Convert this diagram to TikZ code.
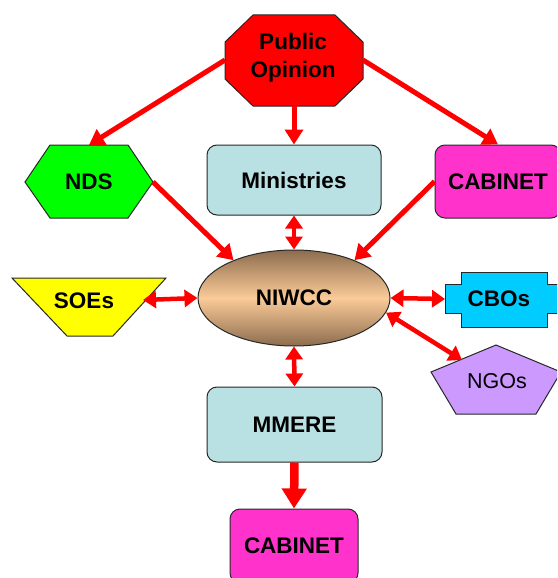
\documentclass[tikz,border=0pt]{standalone}
\usepackage{fontspec}
\setmainfont{Liberation Sans}
\usetikzlibrary{arrows.meta,shapes.geometric}
\definecolor{pubred}{RGB}{255,0,0}
\definecolor{minblue}{RGB}{185,224,227}
\definecolor{ndsgreen}{RGB}{0,255,0}
\definecolor{cabmag}{RGB}{255,51,204}
\definecolor{soeyel}{RGB}{255,255,0}
\definecolor{cbocyan}{RGB}{0,204,255}
\definecolor{ngopurple}{RGB}{204,153,255}
\definecolor{pkMid}{RGB}{251,203,152}
\definecolor{pkEnd}{RGB}{140,108,78}
\definecolor{edge}{RGB}{40,40,40}
\begin{document}
\begin{tikzpicture}[x=1pt,y=-1pt,
  lbl/.style={font=\bfseries\fontsize{22.5}{28}\selectfont, align=center, text=black, inner sep=0pt},
  shp/.style={draw=edge, line width=1pt, line join=miter},
  rbox/.style={draw=edge, line width=1pt, rounded corners=10pt, inner sep=0pt, font=\bfseries\fontsize{22.5}{28}\selectfont},
  arr/.style={draw=red, line width=5pt, -{Triangle[length=15pt,width=18pt]}},
  dbl/.style={draw=red, line width=4.5pt, {Triangle[length=13pt,width=17pt]}-{Triangle[length=13pt,width=17pt]}},
  arrbig/.style={draw=red, line width=8.5pt, -{Triangle[length=20pt,width=24pt]}}]
\clip (0,0) rectangle (557,578);
\fill[white] (0,0) rectangle (557,578);

% shapes drawn as paths
\draw[shp, fill=pubred] (253,15) -- (335,15) -- (363,42) -- (363,79) -- (335,106) -- (253,106) -- (225,79) -- (225,42) -- cycle;
\draw[shp, fill=ndsgreen] (50,145) -- (128,145) -- (153,182) -- (128,218) -- (50,218) -- (25,182) -- cycle;
\draw[shp, fill=soeyel] (12,278) -- (166,278) -- (113,336) -- (67,336) -- cycle;
\draw[shp, fill=cbocyan] (461,272) -- (547,272) -- (547,284) -- (563,284) -- (563,313) -- (547,313) -- (547,327) -- (461,327) -- (461,313) -- (445,313) -- (445,284) -- (461,284) -- cycle;
\draw[shp, fill=ngopurple] (496,345) -- (561,372) -- (536,414) -- (456,414) -- (431,372) -- cycle;

% text nodes
\node[lbl] (pub) at (293,58) {Public\\Opinion};
\node[lbl] (nds) at (89,182) {NDS};
\node[lbl] (soe) at (84,301) {SOEs};
\node[lbl] (cbo) at (499,299) {CBOs};
\node[lbl, font=\fontsize{21.5}{24}\selectfont] (ngo) at (497,381) {NGOs};

% box nodes
\node[rbox, fill=minblue, minimum width=174pt, minimum height=70pt] (min) at (294,180) {Ministries};
\node[rbox, fill=cabmag, minimum width=126pt, minimum height=73pt] (cab) at (498,181.5) {CABINET};
\node[rbox, fill=minblue, minimum width=175pt, minimum height=75pt] (mm) at (294.5,424.5) {MMERE};
\node[rbox, fill=cabmag, minimum width=128pt, minimum height=74pt] (cab2) at (294,546) {CABINET};
\node[ellipse, draw=edge, line width=1pt, minimum width=192pt, minimum height=96pt, inner sep=0pt,
      top color=pkEnd, bottom color=pkEnd, middle color=pkMid,
      font=\bfseries\fontsize{22.5}{28}\selectfont] (niw) at (294,298) {NIWCC};

% connector end points on path-drawn shapes
\coordinate (pubW) at (225,60);
\coordinate (pubE) at (363,60);
\coordinate (pubS) at (294,106);
\coordinate (ndsN) at (89,145);
\coordinate (ndsE) at (153,182);
\coordinate (soeE) at (143,300);
\coordinate (cboW) at (445,299);
\coordinate (ngoNW) at (462,360);

% connectors
\draw[arr] (pubW) -- (ndsN);
\draw[arr] (pubS) -- (min.north);
\draw[arr] (pubE) -- (cab.north);
\draw[arr] (ndsE) -- (niw.148);
\draw[arr] (cab.west) -- (niw.32);
\draw[dbl] (min.south) -- (niw.north);
\draw[dbl] (soeE) -- (niw.west);
\draw[dbl] (niw.east) -- (cboW);
\draw[dbl] (niw.-9) -- (ngoNW);
\draw[dbl] (niw.south) -- (mm.north);
\draw[arrbig] (mm.south) -- (cab2.north);
\end{tikzpicture}
\end{document}
